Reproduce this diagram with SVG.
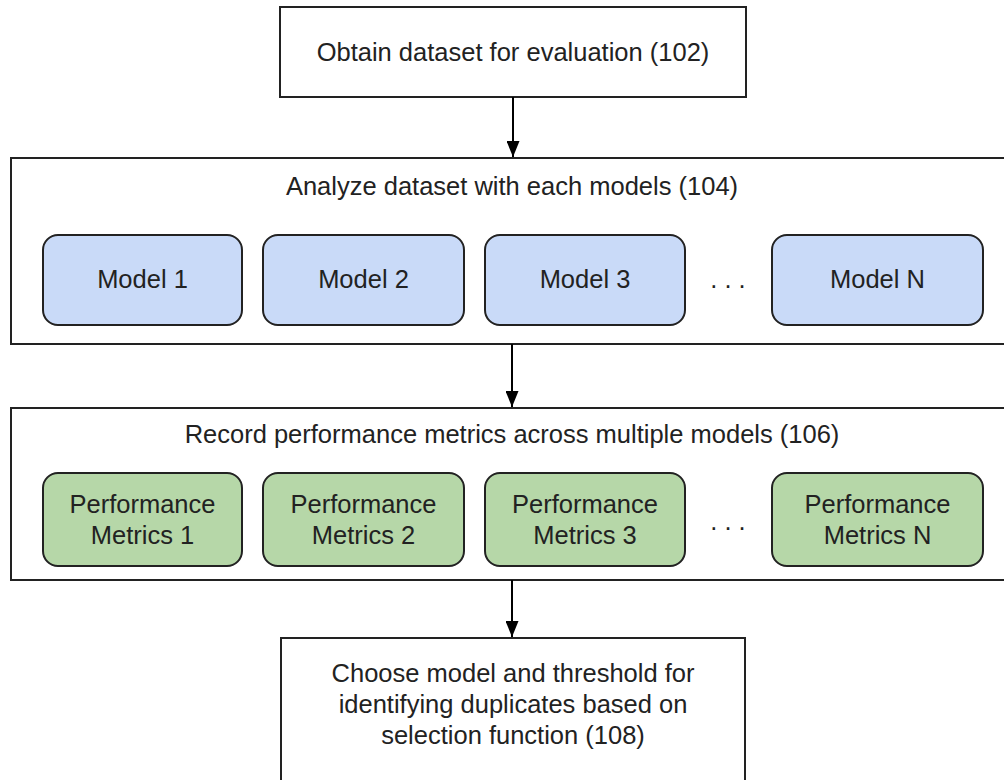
<svg xmlns="http://www.w3.org/2000/svg" width="1004" height="780" viewBox="0 0 1004 780">
<defs>
<marker id="ah" markerWidth="16" markerHeight="13" refX="16" refY="6.5" orient="auto" markerUnits="userSpaceOnUse" viewBox="0 0 16 13">
<path d="M0,0 L16,6.5 L0,13 Z" fill="#000"/>
</marker>
<style>
text{font-family:"Liberation Sans",Arial,sans-serif;font-size:25.5px;fill:#222;text-anchor:middle}
.box{fill:#fff;stroke:#222;stroke-width:2}
.blue{fill:#c9daf8;stroke:#222;stroke-width:2}
.green{fill:#b6d7a8;stroke:#222;stroke-width:2}
.conn{stroke:#000;stroke-width:2;fill:none}
</style>
</defs>
<rect width="1004" height="780" fill="#fff"/>
<g id="n102">
<rect class="box" x="280" y="7" width="466" height="90"/>
<text x="513" y="61">Obtain dataset for evaluation (102)</text>
</g>
<g id="n104">
<rect class="box" x="11" y="158" width="1000" height="186"/>
<text x="512" y="195">Analyze dataset with each models (104)</text>
</g>
<g id="m1"><rect class="blue" x="43" y="235" width="199" height="90" rx="15"/><text x="142.5" y="288">Model 1</text></g>
<g id="m2"><rect class="blue" x="263" y="235" width="201" height="90" rx="15"/><text x="363.5" y="288">Model 2</text></g>
<g id="m3"><rect class="blue" x="485" y="235" width="200" height="90" rx="15"/><text x="585" y="288">Model 3</text></g>
<g id="dots1"><text x="728" y="288">. . .</text></g>
<g id="mN"><rect class="blue" x="772" y="235" width="211" height="90" rx="15"/><text x="877.5" y="288">Model N</text></g>
<g id="n106">
<rect class="box" x="11" y="408" width="1000" height="172"/>
<text x="512" y="443">Record performance metrics across multiple models (106)</text>
</g>
<g id="p1"><rect class="green" x="43" y="473" width="199" height="93" rx="15"/><text x="142.5" y="513">Performance</text><text x="142.5" y="544">Metrics 1</text></g>
<g id="p2"><rect class="green" x="263" y="473" width="201" height="93" rx="15"/><text x="363.5" y="513">Performance</text><text x="363.5" y="544">Metrics 2</text></g>
<g id="p3"><rect class="green" x="485" y="473" width="200" height="93" rx="15"/><text x="585" y="513">Performance</text><text x="585" y="544">Metrics 3</text></g>
<g id="dots2"><text x="728" y="530">. . .</text></g>
<g id="pN"><rect class="green" x="772" y="473" width="211" height="93" rx="15"/><text x="877.5" y="513">Performance</text><text x="877.5" y="544">Metrics N</text></g>
<g id="n108">
<rect class="box" x="281" y="638" width="464" height="160"/>
<text x="513" y="682">Choose model and threshold for</text>
<text x="513" y="713">identifying duplicates based on</text>
<text x="513" y="744">selection function (108)</text>
</g>
<g id="connectors">
<line class="conn" x1="513" y1="97" x2="513" y2="157" marker-end="url(#ah)"/>
<line class="conn" x1="512" y1="344" x2="512" y2="407" marker-end="url(#ah)"/>
<line class="conn" x1="512" y1="580" x2="512" y2="637" marker-end="url(#ah)"/>
</g>
</svg>
